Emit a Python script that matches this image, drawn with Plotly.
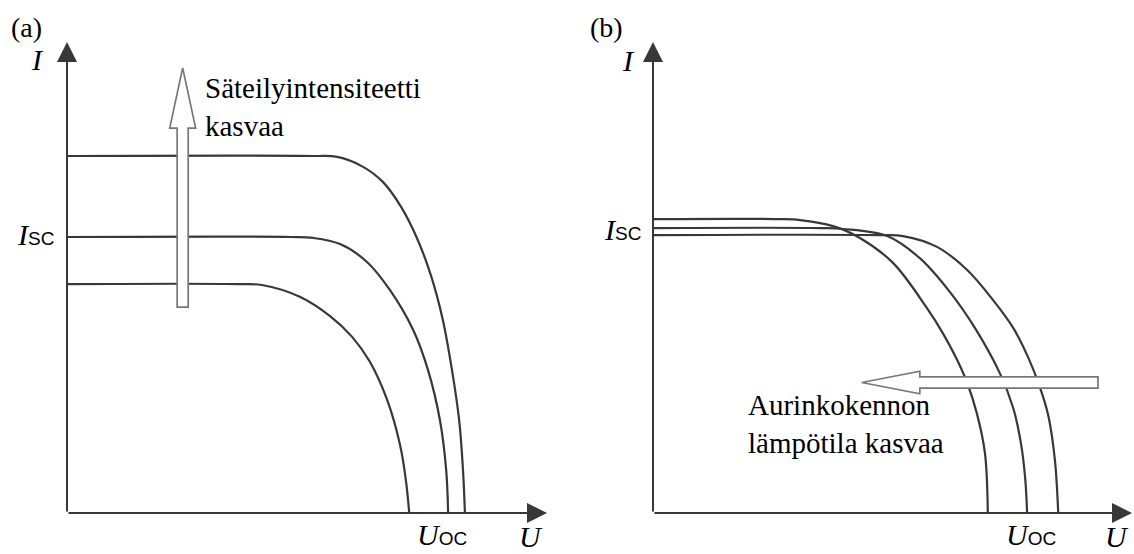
import plotly.graph_objects as go

# ---- panel (a): I-U curves for three irradiance levels (arbitrary units) ----
a_u_high = [0, 5.13, 5.63, 6.15, 6.58, 6.96, 7.29, 7.58, 7.83, 8.02, 8.17, 8.25, 8.29]
a_i_high = [7.58, 7.58, 7.56, 7.36, 7.03, 6.50, 5.84, 5.05, 4.10, 3.04, 1.97, 0.91, 0]

a_u_mid = [0, 4.65, 5.13, 5.69, 6.25, 6.73, 7.21, 7.52, 7.77, 7.90, 7.94]
a_i_mid = [5.86, 5.86, 5.84, 5.71, 5.33, 4.73, 3.89, 3.04, 1.97, 0.91, 0]

a_u_low = [0, 3.60, 4.06, 4.85, 5.48, 5.94, 6.31, 6.67, 6.94, 7.06, 7.13]
a_i_low = [4.86, 4.86, 4.84, 4.59, 4.18, 3.74, 3.21, 2.40, 1.44, 0.70, 0]

# ---- panel (b): I-U curves for three cell temperatures (arbitrary units) ----
b_u_hot = [0, 2.60, 3.07, 3.76, 4.32, 5.01, 5.72, 6.05, 6.33, 6.56, 6.76, 6.93, 6.99]
b_i_hot = [6.24, 6.24, 6.22, 6.09, 5.84, 5.31, 4.35, 3.82, 3.29, 2.76, 2.12, 1.27, 0]

b_u_mid = [0, 3.50, 3.97, 4.89, 5.57, 6.20, 6.72, 7.24, 7.52, 7.68, 7.77, 7.81]
b_i_mid = [6.05, 6.05, 6.03, 5.88, 5.41, 4.69, 3.93, 2.97, 2.23, 1.49, 0.74, 0]

b_u_cool = [0, 4.75, 5.22, 5.93, 6.56, 7.10, 7.52, 7.83, 8.06, 8.25, 8.39, 8.46]
b_i_cool = [5.90, 5.90, 5.88, 5.65, 5.16, 4.52, 3.93, 3.31, 2.72, 2.08, 1.13, 0]

# texts
panel_tags = ["(a)", "(b)"]
text_irradiance = "Säteilyintensiteetti<br>kasvaa"
text_temperature = "Aurinkokennon<br>lämpötila kasvaa"

SERIF = "Liberation Serif"
LINE = "#383838"
ARROW_EDGE = "#777777"

W, H = 1134, 554

fig = go.Figure()

curves = [
    ("x", "y", a_u_high, a_i_high),
    ("x", "y", a_u_mid, a_i_mid),
    ("x", "y", a_u_low, a_i_low),
    ("x2", "y2", b_u_hot, b_i_hot),
    ("x2", "y2", b_u_mid, b_i_mid),
    ("x2", "y2", b_u_cool, b_i_cool),
]
for xa, ya, u, i in curves:
    fig.add_trace(go.Scatter(
        x=u, y=i, xaxis=xa, yaxis=ya, mode="lines",
        line=dict(color=LINE, width=2.2, shape="spline", smoothing=1.0),
        hoverinfo="skip", showlegend=False, cliponaxis=False,
    ))

annotations = []

# axis lines with arrowheads
for xr, yr in (("x", "y"), ("x2", "y2")):
    for hx, hy in ((0, 10), (10, 0)):
        annotations.append(dict(
            x=hx, y=hy, ax=0, ay=0, xref=xr, yref=yr, axref=xr, ayref=yr,
            text="", showarrow=True, arrowhead=2, arrowsize=2.0,
            arrowwidth=2, arrowcolor=LINE, standoff=0,
        ))

def label(x, y, text, size=29, xanchor="center", yanchor="middle", align="center",
          xref="paper", yref="paper"):
    annotations.append(dict(
        x=x, y=y, xref=xref, yref=yref, text=text, showarrow=False,
        xanchor=xanchor, yanchor=yanchor, align=align, borderpad=0,
        font=dict(family=SERIF, size=size, color="black"),
    ))

sub = "<span style='font-family:Liberation Sans;font-size:19px;font-style:normal'>{}</span>"

# panel (a) labels
label(0.0238, 0.9495, panel_tags[0], size=28)
label(0.0335, 0.8917, "<i>I</i>", size=30)
label(0.0485, 0.5776, "<i>I</i>" + sub.format("SC"), size=30, xanchor="right")
label(0.3898, 0.0343, "<i>U</i>" + sub.format("OC"), size=30)
label(0.4683, 0.0, "<i>U</i>", size=30, yanchor="bottom")
label(2.86, 8.62, text_irradiance, xanchor="left", align="left", xref="x", yref="y")

# panel (b) labels
label(0.5344, 0.9495, panel_tags[1], size=28)
label(0.5538, 0.8899, "<i>I</i>", size=30)
label(0.5661, 0.5866, "<i>I</i>" + sub.format("SC"), size=30, xanchor="right")
label(0.9092, 0.0361, "<i>U</i>" + sub.format("OC"), size=30)
label(0.9850, 0.0, "<i>U</i>", size=30, yanchor="bottom")
label(1.96, 1.88, text_temperature, xanchor="left", align="left", xref="x2", yref="y2")

# hollow block arrows
arrow_a = "M 2.295,4.37 L 2.525,4.37 L 2.525,8.17 L 2.68,8.17 L 2.41,9.45 L 2.14,8.17 L 2.295,8.17 Z"
arrow_b = "M 9.29,2.89 L 5.57,2.89 L 5.57,3.01 L 4.36,2.77 L 5.57,2.53 L 5.57,2.65 L 9.29,2.65 Z"
shapes = [
    dict(type="path", path=arrow_a, xref="x", yref="y", layer="above",
         fillcolor="white", line=dict(color=ARROW_EDGE, width=1.7)),
    dict(type="path", path=arrow_b, xref="x2", yref="y2", layer="above",
         fillcolor="white", line=dict(color=ARROW_EDGE, width=1.7)),
]

hidden = dict(visible=False, range=[0, 10], fixedrange=True)
y_dom = [(H - 513) / H, (H - 42) / H]
fig.update_layout(
    width=W, height=H,
    margin=dict(l=0, r=0, t=0, b=0),
    paper_bgcolor="white", plot_bgcolor="white",
    showlegend=False,
    xaxis=dict(hidden, domain=[67 / W, 547 / W]),
    yaxis=dict(hidden, domain=y_dom),
    xaxis2=dict(hidden, domain=[653 / W, 1132 / W]),
    yaxis2=dict(hidden, domain=y_dom),
    annotations=annotations,
    shapes=shapes,
)

fig.write_html("out.html")
